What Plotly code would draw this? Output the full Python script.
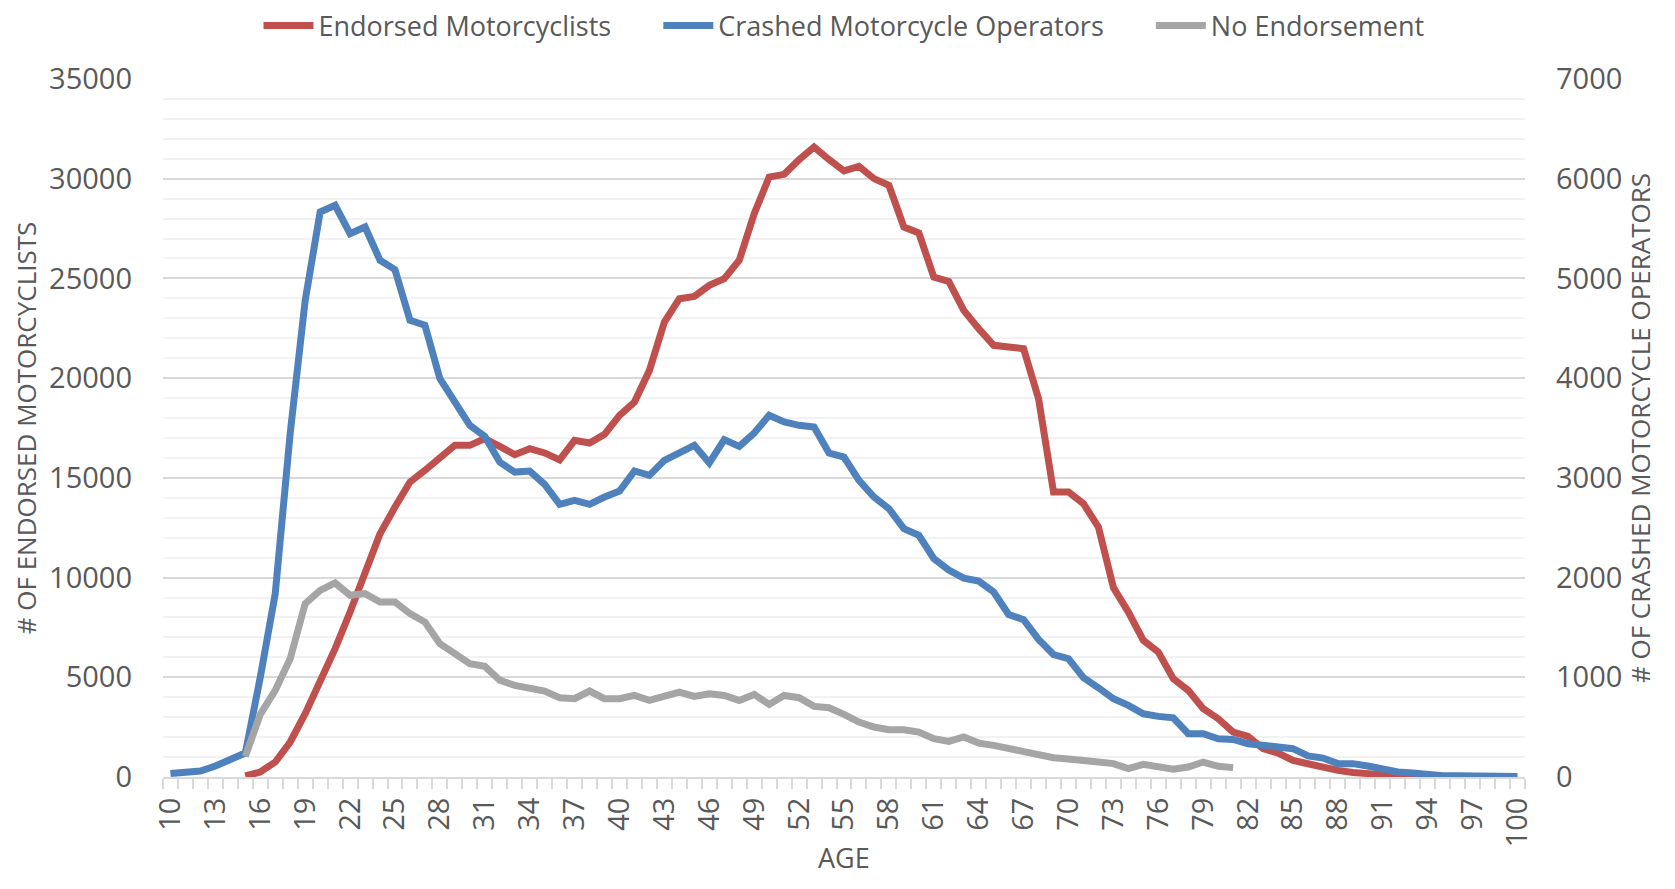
import plotly.graph_objects as go

# ages per series
crashed_ages = list(range(10, 101))
endorsed_ages = list(range(15, 95))
no_endorsement_ages = list(range(15, 82))

# Endorsed motorcyclists (left axis)
endorsed = [
    50, 250, 750, 1755, 3177, 4765, 6437, 8276, 10300, 12200,        # 15-24
    13537, 14791, 15376, 16045, 16630, 16630, 16965, 16580, 16162, 16463,  # 25-34
    16250, 15900, 16880, 16746, 17181, 18134, 18802, 20390, 22814, 23984,  # 35-44
    24101, 24654, 24989, 25907, 28249, 30085, 30220, 30957, 31590, 30957,  # 45-54
    30390, 30622, 30005, 29669, 27578, 27277, 25070, 24850, 23400, 22480,  # 55-64
    21645, 21561, 21477, 18970, 14289, 14289, 13704, 12534, 9500, 8270,    # 65-74
    6851, 6266, 4929, 4344, 3424, 2923, 2254, 2037, 1419, 1201,            # 75-84
    833, 666, 465, 330, 230, 150, 90, 50, 30, 15,                          # 85-94
]

# Crashed motorcycle operators (right axis)
crashed = [
    35, 40, 60, 110, 167, 240, 1000, 1840, 3450, 4780,          # 10-19
    5666, 5733, 5449, 5516, 5182, 5088, 4580, 4530, 3995, 3760,  # 20-29
    3527, 3416, 3158, 3058, 3068, 2935, 2735, 2775, 2735, 2808,  # 30-39
    2868, 3069, 3025, 3176, 3243, 3326, 3149, 3383, 3316, 3450,  # 40-49
    3627, 3560, 3527, 3510, 3249, 3209, 2975, 2808, 2691, 2490,  # 50-59
    2424, 2190, 2075, 1995, 1965, 1855, 1630, 1578, 1380, 1228,  # 60-69
    1186, 996, 895, 785, 718, 634, 608, 594, 434, 434,           # 70-79
    384, 377, 334, 317, 294, 284, 211, 190, 134, 134,            # 80-89
    110, 73, 50, 40, 23, 12, 12, 14, 8, 14,                      # 90-99
    6,                                                           # 100
]

# No endorsement (right axis)
no_endorsement = [
    207, 628, 869, 1187, 1738, 1872, 1946, 1822, 1839, 1755,  # 15-24
    1755, 1638, 1554, 1337, 1237, 1137, 1110, 970, 919, 898,  # 25-34
    862, 795, 785, 862, 785, 785, 818, 768, 808, 852,         # 35-44
    808, 835, 818, 768, 828, 728, 818, 795, 708, 695,         # 45-54
    628, 551, 501, 474, 474, 451, 384, 357, 401, 340,         # 55-64
    317, 283, 250, 226, 193, 180, 173, 150, 134, 84,          # 65-74
    127, 94, 77, 100, 150, 107, 94,                           # 75-81
]

x_ticks = list(range(10, 101, 3))

TEXT = '#595959'
FONT = 'Open Sans, Lato, sans-serif'

fig = go.Figure()
fig.add_trace(go.Scatter(
    x=endorsed_ages, y=endorsed, name='Endorsed Motorcyclists      ', mode='lines',
    line=dict(color='#C0504D', width=7)
))
fig.add_trace(go.Scatter(
    x=crashed_ages, y=crashed, name='Crashed Motorcycle Operators      ', mode='lines',
    line=dict(color='#4F81BD', width=7), yaxis='y2'
))
fig.add_trace(go.Scatter(
    x=no_endorsement_ages, y=no_endorsement, name='No Endorsement', mode='lines',
    line=dict(color='#A5A5A5', width=7), yaxis='y2'
))

# x axis title as annotation, kept inside the bottom edge
fig.add_annotation(
    text='AGE', xref='paper', yref='paper', x=0.5, y=-0.115,
    xanchor='center', yanchor='middle', showarrow=False,
    font=dict(size=27, color=TEXT)
)

# page body has an 8px margin, so the figure is a bit smaller than the window
fig.update_layout(
    width=1659, height=873,
    plot_bgcolor='white', paper_bgcolor='white',
    font=dict(family=FONT, size=28, color=TEXT),
    margin=dict(l=155, r=142, t=71, b=104, autoexpand=False),
    legend=dict(
        orientation='h', x=0.5, xanchor='center', y=1.076, yanchor='middle',
        font=dict(size=27, color=TEXT), itemwidth=50,
    ),
    xaxis=dict(
        range=[9.5, 100.5], tickvals=x_ticks, tickangle=-90,
        ticks='', showgrid=False, zeroline=False,
        showline=True, linecolor='#d9d9d9', linewidth=2,
        ticklabelstandoff=7, tickfont=dict(size=29),
        minor=dict(tick0=9.5, dtick=1, ticks='outside', ticklen=10,
                   tickcolor='#d9d9d9', tickwidth=2, showgrid=False),
    ),
    yaxis=dict(
        range=[0, 35000], dtick=5000, tickformat='d',
        gridcolor='#d9d9d9', gridwidth=2, zeroline=False,
        minor=dict(dtick=1000, showgrid=True, gridcolor='#f2f2f2', gridwidth=2),
        ticklabelstandoff=30, tickfont=dict(size=29),
        title=dict(text='# OF ENDORSED MOTORCYCLISTS', standoff=8,
                   font=dict(size=26, color=TEXT)),
    ),
    yaxis2=dict(
        range=[0, 7000], dtick=1000, tickformat='d',
        overlaying='y', side='right', showgrid=False, zeroline=False,
        ticklabelstandoff=30, tickfont=dict(size=29),
        title=dict(text='# OF CRASHED MOTORCYCLE OPERATORS', standoff=9,
                   font=dict(size=26, color=TEXT)),
    ),
)

fig.write_html("out.html")
